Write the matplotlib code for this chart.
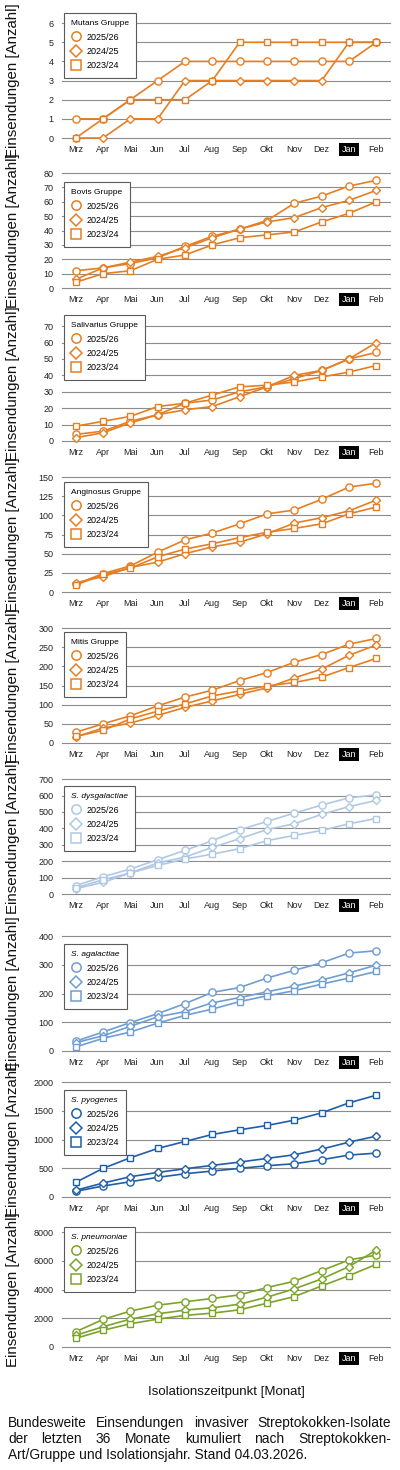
import matplotlib
matplotlib.use("Agg")
import matplotlib.pyplot as plt
from matplotlib.lines import Line2D
import numpy as np

plt.rcParams['font.family'] = ['Liberation Sans', 'DejaVu Sans']

monate = ['Mrz', 'Apr', 'Mai', 'Jun', 'Jul', 'Aug', 'Sep', 'Okt', 'Nov', 'Dez', 'Jan', 'Feb']
saisons = ['2025/26', '2024/25', '2023/24']

# Kumulierte Einsendungen je Gruppe/Art
mutans_2526 = [1, 1, 2, 3, 4, 4, 4, 4, 4, 4, 4, 5]
mutans_2425 = [0, 0, 1, 1, 3, 3, 3, 3, 3, 3, 5, 5]
mutans_2324 = [0, 1, 2, 2, 2, 3, 5, 5, 5, 5, 5, 5]

bovis_2526 = [12, 14, 17, 21, 29, 36, 41, 47, 59, 64, 71, 75]
bovis_2425 = [6, 14, 18, 22, 28, 35, 41, 46, 49, 56, 61, 68]
bovis_2324 = [4, 10, 12, 20, 23, 30, 35, 37, 39, 46, 52, 60]

salivarius_2526 = [4, 6, 12, 16, 23, 25, 30, 33, 38, 43, 50, 54]
salivarius_2425 = [2, 5, 11, 16, 19, 21, 27, 33, 40, 43, 50, 60]
salivarius_2324 = [9, 12, 15, 21, 23, 28, 33, 34, 36, 39, 42, 46]

anginosus_2526 = [10, 24, 34, 52, 68, 77, 89, 102, 107, 121, 137, 142]
anginosus_2425 = [12, 20, 32, 39, 50, 59, 65, 76, 90, 97, 106, 120]
anginosus_2324 = [9, 23, 31, 46, 56, 63, 71, 78, 83, 89, 102, 111]

mitis_2526 = [28, 50, 71, 97, 120, 138, 163, 184, 211, 231, 258, 273]
mitis_2425 = [16, 39, 52, 72, 93, 110, 127, 144, 170, 193, 229, 256]
mitis_2324 = [17, 33, 63, 83, 102, 123, 136, 149, 158, 172, 197, 221]

dysgal_2526 = [51, 105, 152, 209, 266, 325, 391, 442, 493, 542, 586, 604]
dysgal_2425 = [32, 71, 128, 189, 225, 284, 337, 393, 428, 485, 533, 570]
dysgal_2324 = [37, 87, 128, 174, 213, 243, 276, 325, 357, 387, 428, 460]

agal_2526 = [34, 66, 99, 130, 165, 204, 221, 254, 281, 307, 341, 349]
agal_2425 = [29, 53, 86, 119, 137, 168, 186, 206, 226, 247, 272, 299]
agal_2324 = [14, 44, 66, 97, 124, 146, 172, 192, 210, 233, 254, 277]

pyo_2526 = [98, 191, 266, 342, 405, 452, 498, 544, 579, 649, 730, 764]
pyo_2425 = [116, 243, 353, 428, 492, 550, 608, 672, 735, 834, 955, 1060]
pyo_2324 = [255, 498, 683, 845, 967, 1089, 1170, 1245, 1338, 1465, 1639, 1772]

pneumo_2526 = [1060, 1920, 2500, 2910, 3150, 3380, 3630, 4140, 4580, 5320, 6060, 6400]
pneumo_2425 = [810, 1410, 1940, 2310, 2570, 2730, 2980, 3470, 4050, 4740, 5600, 6750]
pneumo_2324 = [600, 1160, 1620, 1940, 2200, 2360, 2590, 3050, 3510, 4250, 4970, 5760]

titel = ['Mutans Gruppe', 'Bovis Gruppe', 'Salivarius Gruppe', 'Anginosus Gruppe',
         'Mitis Gruppe', 'S. dysgalactiae', 'S. agalactiae', 'S. pyogenes', 'S. pneumoniae']
kursiv = [False, False, False, False, False, True, True, True, True]
reihen = [
    (mutans_2526, mutans_2425, mutans_2324),
    (bovis_2526, bovis_2425, bovis_2324),
    (salivarius_2526, salivarius_2425, salivarius_2324),
    (anginosus_2526, anginosus_2425, anginosus_2324),
    (mitis_2526, mitis_2425, mitis_2324),
    (dysgal_2526, dysgal_2425, dysgal_2324),
    (agal_2526, agal_2425, agal_2324),
    (pyo_2526, pyo_2425, pyo_2324),
    (pneumo_2526, pneumo_2425, pneumo_2324),
]
y_max = [6, 80, 70, 150, 300, 700, 400, 2000, 8000]
y_step = [1, 10, 10, 25, 50, 100, 100, 500, 2000]
farben = ['#E67E22'] * 5 + ['#AFC8E4', '#6E9ED3', '#1F5EA8', '#7BA428']

# Layout in Pixeln (Bild 400 x 1470)
W, H = 400, 1470
ax_oben = [23, 173, 326, 477, 628, 779, 936, 1082, 1232]
ax_hoehe = 115
leg_oben = [13, 182, 315, 482, 632, 786, 944, 1090, 1227]
ax_links, ax_breite = 62, 328
marker = ['o', 'D', 's']
msize = [5.2, 4.4, 5.0]

fig = plt.figure(figsize=(W / 100, H / 100), dpi=100)

x = np.arange(len(monate))
for i in range(9):
    ax = fig.add_axes([ax_links / W, 1 - (ax_oben[i] + ax_hoehe) / H,
                       ax_breite / W, ax_hoehe / H])
    c = farben[i]
    for k in range(3):
        ax.plot(x, reihen[i][k], color=c, lw=1.2, marker=marker[k], ms=msize[k],
                mfc='white', mec=c, mew=1.0, clip_on=False, zorder=3)
    ax.set_xlim(-0.5, 11.5)
    ax.set_ylim(0, y_max[i] * 1.001)
    ax.set_yticks(np.arange(0, y_max[i] + 1, y_step[i]))
    ax.set_xticks(x)
    ax.set_xticklabels(monate)
    ax.yaxis.grid(True, color='#8c8c8c', lw=0.8)
    for gl in ax.get_ygridlines():
        gl.set_clip_on(False)
    ax.set_axisbelow(True)
    for s in ax.spines.values():
        s.set_visible(False)
    ax.tick_params(length=0, labelsize=6.5, colors='#222222')
    ax.tick_params(axis='y', pad=6)
    ax.tick_params(axis='x', pad=5)
    jan = ax.get_xticklabels()[10]
    jan.set_color('white')
    jan.set_bbox(dict(facecolor='black', edgecolor='none', pad=1.6))

    fig.text(13 / W, 1 - (ax_oben[i] + ax_hoehe / 2) / H, 'Einsendungen [Anzahl]',
             rotation=90, fontsize=10.8, ha='center', va='center', color='#111111')

    handles = [Line2D([], [], ls='none', marker=marker[k], ms=msize[k] + 1.5,
                      mfc='white', mec=c, mew=1.1) for k in range(3)]
    tprops = {'size': 6, 'style': 'italic' if kursiv[i] else 'normal'}
    leg = ax.legend(handles, saisons, title=titel[i], title_fontproperties=tprops,
                    fontsize=6.5, loc='upper left', alignment='left',
                    bbox_to_anchor=(64 / W, 1 - leg_oben[i] / H),
                    bbox_transform=fig.transFigure, frameon=True, fancybox=False,
                    edgecolor='#5a5a5a', framealpha=1, borderpad=0.8,
                    labelspacing=0.6, handlelength=1.0, handletextpad=0.7,
                    borderaxespad=0)
    leg.get_frame().set_linewidth(0.8)
    leg.set_zorder(5)

fig.text(226 / W, 1 - 1392 / H, 'Isolationszeitpunkt [Monat]', fontsize=9.5,
         ha='center', va='center', color='#111111')

# Bildunterschrift im Blocksatz
def blocksatz(woerter, y, x0, x1, **kw):
    texte = [fig.text(0, y, w, **kw) for w in woerter]
    r = fig.canvas.get_renderer()
    breiten = [t.get_window_extent(r).width for t in texte]
    luecke = ((x1 - x0) * fig.bbox.width - sum(breiten)) / (len(woerter) - 1)
    pos = x0 * fig.bbox.width
    for t, b in zip(texte, breiten):
        t.set_x(pos / fig.bbox.width)
        pos += b + luecke

kw = dict(fontsize=9.9, va='center', ha='left', color='#111111')
blocksatz('Bundesweite Einsendungen invasiver Streptokokken-Isolate'.split(),
          1 - 1423 / H, 8 / W, 391 / W, **kw)
blocksatz('der letzten 36 Monate kumuliert nach Streptokokken-'.split(),
          1 - 1439 / H, 8 / W, 391 / W, **kw)
fig.text(8 / W, 1 - 1455 / H, 'Art/Gruppe und Isolationsjahr. Stand 04.03.2026.', **kw)

fig.savefig('out.png', dpi=100)
